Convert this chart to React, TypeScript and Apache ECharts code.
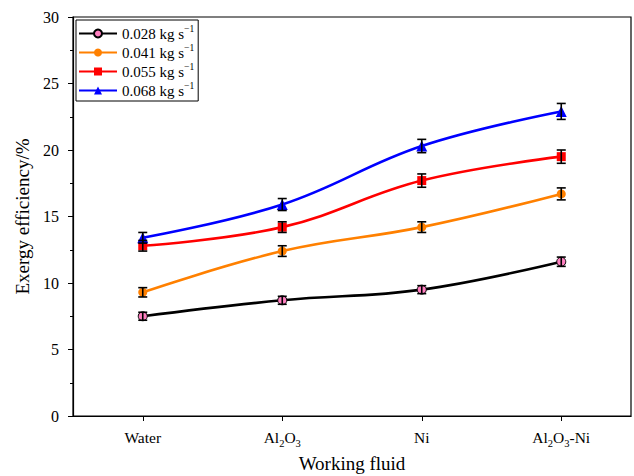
import React, { useEffect, useRef } from "react";
import * as echarts from "echarts";

const categories = ["Water", "Al2O3", "Ni", "Al2O3-Ni"];
const seriesNames = ["0.028", "0.041", "0.055", "0.068"];
const s028 = [7.5, 8.7, 9.5, 11.6];
const s041 = [9.3, 12.4, 14.2, 16.7];
const s055 = [12.8, 14.2, 17.7, 19.5];
const s068 = [13.4, 15.9, 20.3, 22.9];
const e028 = [0.3, 0.3, 0.3, 0.35];
const e041 = [0.35, 0.4, 0.4, 0.45];
const e055 = [0.4, 0.4, 0.5, 0.5];
const e068 = [0.4, 0.45, 0.5, 0.6];
const yTicks = [0, 5, 10, 15, 20, 25, 30];

const FONT = "Liberation Serif";

export default function App() {
  const ref = useRef<HTMLDivElement>(null);
  useEffect(() => {
    if (!ref.current) return;
    const chart = echarts.init(ref.current, null, { renderer: "svg" });
    const values = [s028, s041, s055, s068];
    const errs = [e028, e041, e055, e068];
    const colors = ["#000000", "#ff8000", "#ff0000", "#0000ff"];
    const symbols = ["circle", "circle", "rect", "triangle"];
    const fills = ["#ff80c0", "#ff8000", "#ff0000", "#0000ff"];
    const lineSeries = values.map((v, i) => ({
      name: seriesNames[i],
      type: "line",
      data: v,
      smooth: 0.4,
      symbol: symbols[i],
      symbolSize: i === 3 ? 11 : 9,
      lineStyle: { color: colors[i], width: 2.6 },
      itemStyle: {
        color: fills[i],
        borderColor: i === 0 ? "#000" : fills[i],
        borderWidth: i === 0 ? 1 : 0,
      },
      z: 2,
    }));
    const errSeries = values.map((v, i) => ({
      name: "err" + i,
      type: "custom",
      data: v.map((y, k) => [k, y, errs[i][k]]),
      z: 5,
      renderItem: (params: any, api: any) => {
        const x = api.value(0);
        const y = api.value(1);
        const e = api.value(2);
        const t = api.coord([x, y + e]);
        const b = api.coord([x, y - e]);
        const hw = 4.5;
        const st = { stroke: "#000", lineWidth: 1.6 };
        return {
          type: "group",
          children: [
            { type: "line", shape: { x1: t[0], y1: t[1], x2: b[0], y2: b[1] }, style: st },
            { type: "line", shape: { x1: t[0] - hw, y1: t[1], x2: t[0] + hw, y2: t[1] }, style: st },
            { type: "line", shape: { x1: b[0] - hw, y1: b[1], x2: b[0] + hw, y2: b[1] }, style: st },
          ],
        };
      },
    }));
    const catLabel = (c: string) => {
      if (c === "Al2O3") return "{b|Al}{s|2}{b|O}{s|3}";
      if (c === "Al2O3-Ni") return "{b|Al}{s|2}{b|O}{s|3}{b|-Ni}";
      return "{b|" + c + "}";
    };
    chart.setOption({
      animation: false,
      backgroundColor: "#ffffff",
      textStyle: { fontFamily: FONT },
      grid: {
        left: 73,
        width: 558,
        top: 17,
        height: 399,
        outerBoundsMode: "none",
        containLabel: false,
        show: true,
        borderColor: "#000",
        borderWidth: 1.2,
        backgroundColor: "transparent",
      },
      legend: {
        data: seriesNames,
        orient: "vertical",
        left: 76,
        top: 20,
        padding: [4, 4, 3, 2],
        itemGap: 2,
        itemWidth: 38,
        itemHeight: 10,
        borderColor: "#000",
        borderWidth: 1,
        backgroundColor: "#fff",
        formatter: (n: string) => "{t|" + n + " kg s}{u|−1}",
        textStyle: {
          fontFamily: FONT,
          color: "#000",
          rich: {
            t: { fontFamily: FONT, fontSize: 15, color: "#000", lineHeight: 19, verticalAlign: "middle" },
            u: { fontFamily: FONT, fontSize: 9.5, color: "#000", lineHeight: 9, verticalAlign: "top" },
          },
        },
      },
      xAxis: {
        type: "category",
        data: categories,
        boundaryGap: true,
        name: "Working fluid",
        nameLocation: "middle",
        nameGap: 38,
        nameTextStyle: { fontFamily: FONT, fontSize: 19, color: "#000" },
        axisLine: { lineStyle: { color: "#000", width: 1.2 } },
        axisTick: { show: true, alignWithLabel: true, interval: 0, length: 5, lineStyle: { color: "#000" } },
        axisLabel: {
          interval: 0,
          margin: 10,
          fontFamily: FONT,
          formatter: (v: string) => catLabel(v),
          rich: {
            b: { fontFamily: FONT, fontSize: 15.5, color: "#000", lineHeight: 23, verticalAlign: "middle" },
            s: { fontFamily: FONT, fontSize: 10.5, color: "#000", lineHeight: 11, verticalAlign: "bottom" },
          },
        },
        splitLine: { show: false },
      },
      yAxis: {
        type: "value",
        min: 0,
        max: 30,
        interval: 5,
        name: "Exergy efficiency/%",
        nameLocation: "middle",
        nameGap: 39,
        nameTextStyle: { fontFamily: FONT, fontSize: 19, color: "#000" },
        axisLine: { show: true, lineStyle: { color: "#000", width: 1.2 } },
        axisTick: { show: true, length: 5, lineStyle: { color: "#000" } },
        minorTick: { show: true, splitNumber: 2, length: 3, lineStyle: { color: "#000" } },
        axisLabel: {
          fontFamily: FONT,
          fontSize: 16,
          color: "#000",
          margin: 14,
          formatter: (v: number) => (yTicks.includes(v) ? String(v) : ""),
        },
        splitLine: { show: false },
      },
      series: [...lineSeries, ...errSeries],
    });
    return () => chart.dispose();
  }, []);
  return <div ref={ref} style={{ width: 634, height: 476, position: "absolute", left: 0, top: 0 }} />;
}
